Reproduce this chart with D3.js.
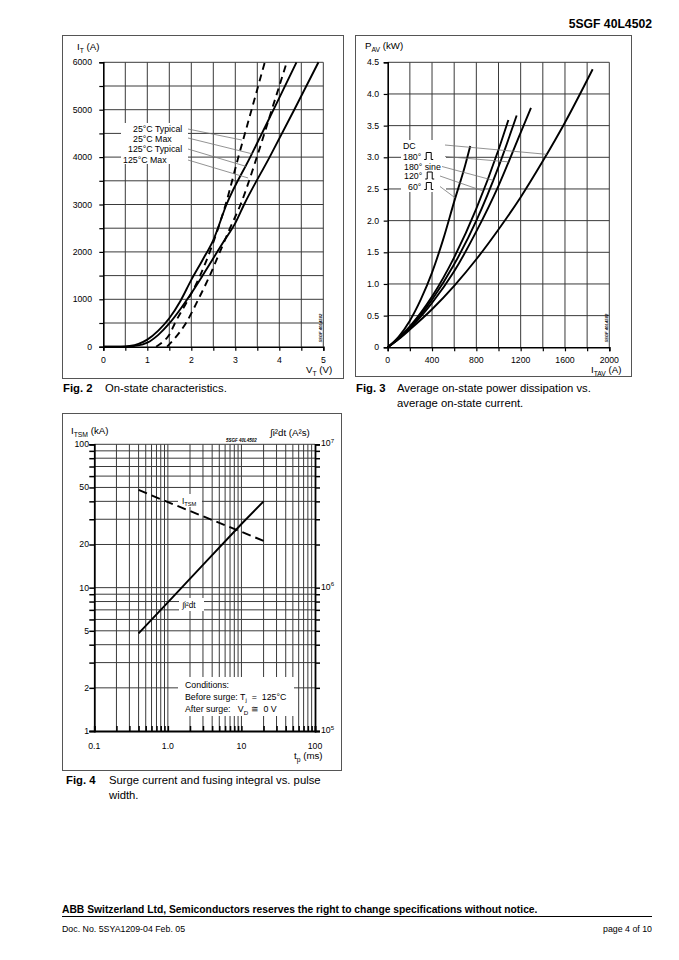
<!DOCTYPE html>
<html><head><meta charset="utf-8">
<script src="https://cdn.jsdelivr.net/npm/d3@7"></script>
<style>
body{margin:0;background:#fff}
svg{display:block;font-family:"Liberation Sans",Arial,Helvetica,sans-serif}
</style></head><body>
<svg id="page" width="679" height="960"></svg>
<script>
// ---------- Fig. 2 data : on-state characteristics (V_T in V, I_T in A)
const fig2VoltTicks = [0, 1, 2, 3, 4, 5];
const fig2CurrentTicks = [0, 1000, 2000, 3000, 4000, 5000, 6000];
const fig2Labels = ["25°C Typical", "25°C Max", "125°C Typical", "125°C Max"];
const vt25Typical = [[1.2,0],[1.35,100],[1.5,250],[1.63,500],[1.93,1000],[2.2,1500],[2.42,2000],[2.61,2500],[2.78,3000],[3.07,4000],[3.37,5000],[3.67,6000]];
const vt25Max = [[1.45,0],[1.6,150],[1.88,500],[2.16,1000],[2.42,1500],[2.65,2000],[2.88,2500],[3.12,3000],[3.49,4000],[3.83,5000],[4.17,6000]];
const vt125Typical = [[0,0],[0.4,0],[0.6,15],[0.8,60],[1.0,150],[1.25,340],[1.5,600],[1.75,960],[2.0,1410],[2.25,1820],[2.5,2250],[2.8,3000],[3.34,4000],[3.87,5000],[4.39,6000]];
const vt125Max = [[0,0],[0.5,0],[0.7,15],[0.9,50],[1.0,85],[1.25,250],[1.5,490],[1.75,790],[2.0,1127],[2.25,1490],[2.5,1866],[2.75,2240],[3.0,2606],[3.2,3000],[3.78,4000],[4.34,5000],[4.89,6000]];
const fig2LeaderEnds = [[3.15,4360],[3.40,4065],[3.26,3800],[3.29,3560]];

// ---------- Fig. 3 data : average power vs average current (I_TAV in A, P_AV in kW)
const fig3CurrentTicks = [0, 400, 800, 1200, 1600, 2000];
const fig3PowerTicks = [0, 0.5, 1.0, 1.5, 2.0, 2.5, 3.0, 3.5, 4.0, 4.5];
const fig3Labels = ["DC", "180°", "180° sine", "120°", "60°"];
const pavDC = [[0,0],[100,0.13],[200,0.28],[400,0.6],[600,0.97],[800,1.39],[1000,1.86],[1200,2.37],[1400,2.94],[1600,3.55],[1850,4.39]];
const pav180Rect = [[0,0],[100,0.14],[200,0.3],[400,0.7],[600,1.2],[800,1.83],[1000,2.55],[1200,3.39],[1293,3.78]];
const pav180Sine = [[0,0],[100,0.14],[200,0.31],[400,0.75],[600,1.31],[800,2.0],[1000,2.85],[1164,3.66]];
const pav120Rect = [[0,0],[100,0.15],[200,0.33],[400,0.8],[600,1.42],[800,2.19],[1000,3.12],[1089,3.59]];
const pav60Rect = [[0,0],[100,0.17],[200,0.42],[300,0.76],[400,1.18],[500,1.7],[600,2.3],[700,2.88],[745,3.18]];
const fig3LeaderCurrents = [1435, 1090, 950, 860, 610];

// ---------- Fig. 4 data : surge current and fusing integral vs pulse width (t_p in ms)
const fig4TimeTicks = [0.1, 1, 10, 100];
const fig4TimeTickLabels = ["0.1", "1.0", "10", "100"];
const fig4ItsmTicks = [1, 2, 5, 10, 20, 50, 100];
const fig4I2tTicks = [1e5, 1e6, 1e7];
const itsmTime = [0.4, 1, 3, 10, 20];
const itsmKA = [48, 39.5, 31.5, 24.5, 21.2];
const i2tTime = [0.4, 1, 3, 10, 20];
const i2tValue = [4.8e5, 7.9e5, 1.44e6, 2.78e6, 4.0e6];

// ------------------------------------------------------------------
const svg = d3.select("#page");
const INK = "#000", GRID = "#3a3a3a", FRAME = "#555";

function rich(g, x, y, parts, size, opts = {}) {
  const t = g.append("text").attr("x", x).attr("y", y)
    .attr("font-size", size).attr("fill", INK)
    .attr("text-anchor", opts.anchor || "start")
    .attr("font-weight", opts.weight || "normal");
  if (opts.style) t.attr("font-style", opts.style);
  let shift = 0;
  parts.forEach(p => {
    const s = t.append("tspan").text(p.t);
    let target = 0;
    if (p.sub) { target = size * 0.3; s.attr("font-size", size * 0.7); }
    if (p.sup) { target = -size * 0.4; s.attr("font-size", size * 0.7); }
    if (target - shift !== 0) s.attr("dy", target - shift);
    shift = target;
  });
  return t;
}
function pulse(g, x, yb) {
  g.append("path").attr("d", `M${x},${yb} h2 v-7 h5 v7 h2`)
    .attr("fill", "none").attr("stroke", INK).attr("stroke-width", 1);
}
function interpY(series, xv) {
  for (let i = 1; i < series.length; i++) {
    const a = series[i-1], b = series[i];
    if (xv <= b[0]) return a[1] + (b[1]-a[1]) * (xv - a[0]) / (b[0]-a[0]);
  }
  return series[series.length-1][1];
}

// header
rich(svg, 652, 28, [{t:"5SGF 40L4502"}], 12.2, {anchor:"end", weight:"bold"});

// frames
svg.append("rect").attr("x",62.5).attr("y",35.5).attr("width",281).attr("height",343).attr("fill","none").attr("stroke",FRAME);
svg.append("rect").attr("x",355.5).attr("y",35.5).attr("width",276).attr("height",341).attr("fill","none").attr("stroke",FRAME);
svg.append("rect").attr("x",62.5).attr("y",413.5).attr("width",279).attr("height",357).attr("fill","none").attr("stroke",FRAME);

// ================= FIG 2 =================
{
  const g = svg.append("g");
  const x = d3.scaleLinear([0, 5], [103.3, 323.3]);
  const y = d3.scaleLinear([0, 6000], [346.7, 62.3]);
  const vGrid = d3.range(1, 11).map(i => i * 0.5);
  const hGrid = d3.range(1, 13).map(i => i * 500);
  g.selectAll(".vg").data(vGrid).join("line").attr("x1", d=>x(d)).attr("x2", d=>x(d))
    .attr("y1", y(0)).attr("y2", y(6000)).attr("stroke", GRID).attr("stroke-width", 1);
  g.selectAll(".hg").data(hGrid).join("line").attr("x1", x(0)).attr("x2", x(5))
    .attr("y1", d=>y(d)).attr("y2", d=>y(d)).attr("stroke", GRID).attr("stroke-width", 1);
  const ax = d3.axisBottom(x).tickValues(vGrid.concat([0])).tickSize(4).tickFormat("");
  const axg = g.append("g").attr("transform", `translate(0,${y(0)})`).call(ax);
  const ay = d3.axisLeft(y).tickValues(hGrid.concat([0])).tickSize(4).tickFormat("");
  const ayg = g.append("g").attr("transform", `translate(${x(0)},0)`).call(ay);
  [axg, ayg].forEach(a => { a.select(".domain").attr("stroke", INK).attr("stroke-width", 1.6);
    a.selectAll(".tick line").attr("stroke", INK).attr("stroke-width", 1.2); });
  fig2VoltTicks.forEach(v => rich(g, x(v), 363, [{t:String(v)}], 8.7, {anchor:"middle"}));
  fig2CurrentTicks.forEach(v => rich(g, 92, y(v) + 3, [{t:String(v)}], 8.7, {anchor:"end"}));
  rich(g, 77, 50, [{t:"I"},{t:"T",sub:true},{t:" (A)"}], 9.7);
  rich(g, 306, 373, [{t:"V"},{t:"T",sub:true},{t:" (V)"}], 9.7);
  g.append("text").attr("transform", `translate(321.5,328) rotate(-90)`).attr("text-anchor","middle")
    .attr("font-size", 4.2).attr("font-style","italic").attr("font-weight","bold").text("5SGF 40L4502");
  g.append("rect").attr("x",121).attr("y",123).attr("width",67).attr("height",41).attr("fill","#fff");
  const line = d3.line().x(d=>x(d[0])).y(d=>y(d[1])).curve(d3.curveMonotoneX);
  const curves = [[vt25Typical, true],[vt25Max, true],[vt125Typical, false],[vt125Max, false]];
  curves.forEach(([d, dashed]) => g.append("path").attr("d", line(d)).attr("fill","none")
    .attr("stroke", INK).attr("stroke-width", 1.9).attr("stroke-dasharray", dashed ? "7,5" : null));
  const lx = [133, 133, 128, 123], ly = [132, 142, 152, 162.5], sy = [129, 138, 149, 160];
  fig2Labels.forEach((s, i) => {
    rich(g, lx[i], ly[i], [{t:s}], 8.8);
    g.append("line").attr("x1", 188).attr("y1", sy[i]).attr("x2", x(fig2LeaderEnds[i][0])).attr("y2", y(fig2LeaderEnds[i][1]))
      .attr("stroke", "#777").attr("stroke-width", 0.8);
  });
}

// ================= FIG 3 =================
{
  const g = svg.append("g");
  const x = d3.scaleLinear([0, 2000], [387.7, 609.3]);
  const y = d3.scaleLinear([0, 4.5], [347.3, 62.3]);
  const vGrid = d3.range(1, 11).map(i => i * 200);
  const hGrid = d3.range(1, 10).map(i => i * 0.5);
  g.selectAll(".vg").data(vGrid).join("line").attr("x1", d=>x(d)).attr("x2", d=>x(d))
    .attr("y1", y(0)).attr("y2", y(4.5)).attr("stroke", GRID).attr("stroke-width", 1);
  g.selectAll(".hg").data(hGrid).join("line").attr("x1", x(0)).attr("x2", x(2000))
    .attr("y1", d=>y(d)).attr("y2", d=>y(d)).attr("stroke", GRID).attr("stroke-width", 1);
  const ax = d3.axisBottom(x).tickValues(vGrid.concat([0])).tickSize(4).tickFormat("");
  const axg = g.append("g").attr("transform", `translate(0,${y(0)})`).call(ax);
  const ay = d3.axisLeft(y).tickValues(hGrid.concat([0])).tickSize(4).tickFormat("");
  const ayg = g.append("g").attr("transform", `translate(${x(0)},0)`).call(ay);
  [axg, ayg].forEach(a => { a.select(".domain").attr("stroke", INK).attr("stroke-width", 1.6);
    a.selectAll(".tick line").attr("stroke", INK).attr("stroke-width", 1.2); });
  fig3CurrentTicks.forEach(v => rich(g, x(v), 363, [{t:String(v)}], 8.7, {anchor:"middle"}));
  fig3PowerTicks.forEach(v => rich(g, 379, y(v) + 3, [{t: v === 0 ? "0" : v.toFixed(1)}], 8.7, {anchor:"end"}));
  rich(g, 365, 49, [{t:"P"},{t:"AV",sub:true},{t:" (kW)"}], 9.7);
  rich(g, 591, 373, [{t:"I"},{t:"TAV",sub:true},{t:" (A)"}], 9.7);
  g.append("text").attr("transform", `translate(607.5,328) rotate(-90)`).attr("text-anchor","middle")
    .attr("font-size", 4.2).attr("font-style","italic").attr("font-weight","bold").text("5SGF 40L4502");
  g.append("rect").attr("x",401).attr("y",140).attr("width",45).attr("height",52).attr("fill","#fff");
  const line = d3.line().x(d=>x(d[0])).y(d=>y(d[1])).curve(d3.curveMonotoneX);
  const curves = [pavDC, pav180Rect, pav180Sine, pav120Rect, pav60Rect];
  curves.forEach(d => g.append("path").attr("d", line(d)).attr("fill","none")
    .attr("stroke", INK).attr("stroke-width", 1.9));
  const lx = [403, 403, 404, 404, 408], ly = [149, 159.5, 169.5, 179, 189.5], sy = [145, 156.5, 166.5, 176, 186.5];
  const sx = [445, 445, 442, 440, 440];
  fig3Labels.forEach((s, i) => {
    const t = rich(g, lx[i], ly[i], [{t:s}], 8.8);
    if (i === 1 || i === 3 || i === 4) {
      const w = t.node().getComputedTextLength();
      pulse(g, lx[i] + w + 3, ly[i]);
    }
    const c = curves[i], iv = fig3LeaderCurrents[i];
    g.append("line").attr("x1", sx[i]).attr("y1", sy[i]).attr("x2", x(iv)).attr("y2", y(interpY(c, iv)))
      .attr("stroke", "#777").attr("stroke-width", 0.8);
  });
}

// ================= FIG 4 =================
{
  const g = svg.append("g");
  const x = d3.scaleLog([0.1, 100], [94.3, 315]);
  const y = d3.scaleLog([1, 100], [731, 444.3]);
  const yR = d3.scaleLog([1e5, 1e7], [731, 444.3]);
  const xMinor = [], yMinor = [];
  [0.1, 1, 10].forEach(dec => d3.range(1, 10).forEach(k => xMinor.push(dec * k)));
  xMinor.push(100);
  [1, 10].forEach(dec => d3.range(1, 10).forEach(k => yMinor.push(dec * k)));
  yMinor.push(100);
  g.selectAll(".vg").data(xMinor.slice(1, -1)).join("line").attr("x1", d=>x(d)).attr("x2", d=>x(d))
    .attr("y1", y(1)).attr("y2", y(100)).attr("stroke", GRID).attr("stroke-width", 1);
  g.selectAll(".hg").data(yMinor.slice(1)).join("line").attr("x1", x(0.1)).attr("x2", x(100))
    .attr("y1", d=>y(d)).attr("y2", d=>y(d)).attr("stroke", GRID).attr("stroke-width", 1);
  const axg = g.append("g").attr("transform", `translate(0,${y(1)})`)
    .call(d3.axisBottom(x).tickValues(xMinor).tickSize(-5).tickFormat(""));
  const ayg = g.append("g").attr("transform", `translate(${x(0.1)},0)`)
    .call(d3.axisLeft(y).tickValues(yMinor).tickSize(5).tickFormat(""));
  const ayR = g.append("g").attr("transform", `translate(${x(100)},0)`)
    .call(d3.axisRight(yR).tickValues(yMinor.map(v => v * 1e5)).tickSize(5).tickFormat(""));
  [axg, ayg, ayR].forEach(a => { a.select(".domain").attr("stroke", INK).attr("stroke-width", 1.8);
    a.selectAll(".tick line").attr("stroke", INK).attr("stroke-width", 1.5); });
  fig4TimeTicks.forEach((v, i) => rich(g, x(v), 749, [{t: fig4TimeTickLabels[i]}], 8.7, {anchor:"middle"}));
  fig4ItsmTicks.forEach(v => rich(g, 89, y(v) + 3, [{t:String(v)}], 8.7, {anchor:"end"}));
  fig4I2tTicks.forEach(v => rich(g, 321, yR(v) + 2, [{t:"10"},{t:String(Math.round(Math.log10(v))),sup:true}], 8.7));
  rich(g, 71, 434, [{t:"I"},{t:"TSM",sub:true},{t:" (kA)"}], 9.7);
  rich(g, 270, 436, [{t:"∫i²dt (A²s)"}], 9.7);
  rich(g, 294, 759, [{t:"t"},{t:"p",sub:true},{t:" (ms)"}], 9.7);
  g.append("text").attr("x", 226).attr("y", 442).attr("font-size", 4.5).attr("font-style","italic")
    .attr("font-weight","bold").text("5SGF 40L4502");
  g.append("rect").attr("x",178).attr("y",494).attr("width",24).attr("height",13).attr("fill","#fff");
  g.append("rect").attr("x",179).attr("y",598).attr("width",25).attr("height",13).attr("fill","#fff");
  g.append("rect").attr("x",178).attr("y",677).attr("width",116).attr("height",39).attr("fill","#fff");
  const lineI = d3.line().x((d,i)=>x(itsmTime[i])).y(d=>y(d));
  g.append("path").attr("d", lineI(itsmKA)).attr("fill","none").attr("stroke",INK)
    .attr("stroke-width",1.9).attr("stroke-dasharray","9,5");
  const lineQ = d3.line().x((d,i)=>x(i2tTime[i])).y(d=>yR(d));
  g.append("path").attr("d", lineQ(i2tValue)).attr("fill","none").attr("stroke",INK).attr("stroke-width",1.9);
  rich(g, 182, 504, [{t:"I"},{t:"TSM",sub:true}], 8.2);
  rich(g, 182, 608, [{t:"∫i²dt"}], 8.2);
  rich(g, 185, 688, [{t:"Conditions:"}], 8.8);
  rich(g, 185, 699.5, [{t:"Before surge: T"},{t:"j",sub:true},{t:"  =  125°C"}], 8.8).attr("xml:space","preserve");
  rich(g, 185, 712, [{t:"After surge:   V"},{t:"D",sub:true},{t:" ≅  0 V"}], 8.8).attr("xml:space","preserve");
}

// captions
function caption(x1, x2, y, lab, lines) {
  rich(svg, x1, y, [{t:lab}], 11.3, {weight:"bold"});
  lines.forEach((s, i) => rich(svg, x2, y + i * 14.5, [{t:s}], 11.3));
}
caption(63, 105, 392, "Fig. 2", ["On-state characteristics."]);
caption(356, 397, 392, "Fig. 3", ["Average on-state power dissipation vs.", "average on-state current."]);
caption(66, 109, 784, "Fig. 4", ["Surge current and fusing integral vs. pulse", "width."]);

// footer
rich(svg, 62, 913, [{t:"ABB Switzerland Ltd, Semiconductors reserves the right to change specifications without notice."}], 10.3, {weight:"bold"});
svg.append("line").attr("x1",62).attr("x2",652).attr("y1",916.5).attr("y2",916.5).attr("stroke",INK).attr("stroke-width",1);
rich(svg, 62, 932, [{t:"Doc. No. 5SYA1209-04 Feb. 05"}], 8.8);
rich(svg, 652, 932, [{t:"page 4 of 10"}], 8.8, {anchor:"end"});
</script>
</body></html>
